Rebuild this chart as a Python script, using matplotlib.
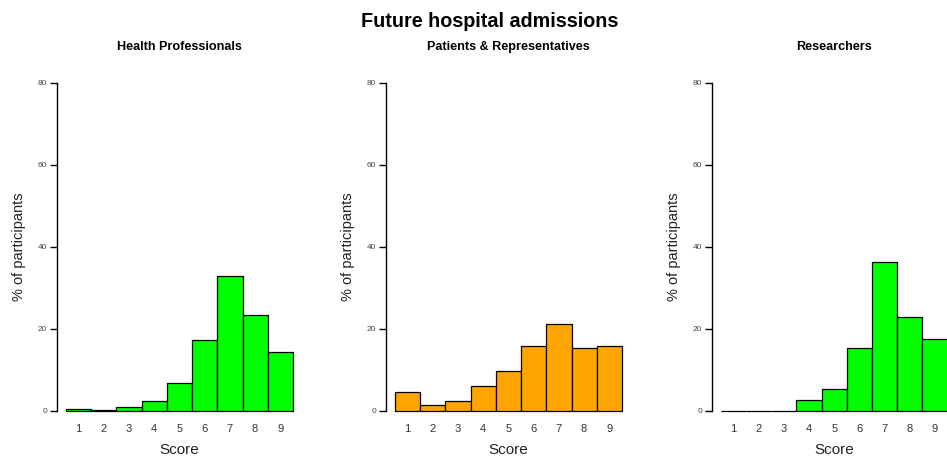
import matplotlib.pyplot as plt

plt.rcParams['font.family'] = ['Liberation Sans', 'DejaVu Sans']

scores = [1, 2, 3, 4, 5, 6, 7, 8, 9]
health_prof = [0.5, 0.2, 0.8, 2.3, 6.8, 17.3, 32.9, 23.3, 14.3]
patients = [4.5, 1.4, 2.4, 5.9, 9.8, 15.8, 21.2, 15.2, 15.8]
researchers = [0, 0, 0, 2.6, 5.4, 15.3, 36.3, 22.8, 17.4]

groups = ["Health Professionals", "Patients & Representatives", "Researchers"]
values = [health_prof, patients, researchers]
colors = ["#00FF00", "#FFA500", "#00FF00"]

W, H = 947, 463
fig = plt.figure(figsize=(W / 100, H / 100), dpi=100)

lefts = [57, 386, 711.7]
ax_w = 245
ax_bottom = 423.8
ax_top = 69.6

for left, name, vals, col in zip(lefts, groups, values, colors):
    ax = fig.add_axes([left / W, (H - ax_bottom) / H, ax_w / W, (ax_bottom - ax_top) / H])
    ax.bar(scores, vals, width=1.0, color=col, edgecolor="black", linewidth=0.9)
    ax.set_xlim(0.5 - 0.36, 9.5 + 0.36)
    ax.set_ylim(-3.2, 83.2)
    for s in ["top", "right", "bottom"]:
        ax.spines[s].set_visible(False)
    ax.spines["left"].set_bounds(0, 80)
    ax.spines["left"].set_linewidth(1.0)
    ax.set_yticks([0, 20, 40, 60, 80])
    ax.tick_params(axis="y", direction="out", length=5, width=1.0, labelsize=6,
                   labelcolor="#444444", pad=2)
    ax.set_xticks(scores)
    ax.tick_params(axis="x", length=0, labelsize=8, labelcolor="#333333", pad=0)
    ax.set_xlabel("Score", fontsize=11, color="#222222", labelpad=6.5)
    ax.set_ylabel("% of participants", fontsize=10.5, color="#222222", labelpad=8.5)
    ax.set_title(name, fontsize=9.1, fontweight="bold", pad=14)

fig.suptitle("Future hospital admissions", fontsize=14.2, fontweight="bold",
             x=0.517, y=0.975)

plt.savefig("out.png", dpi=100)
